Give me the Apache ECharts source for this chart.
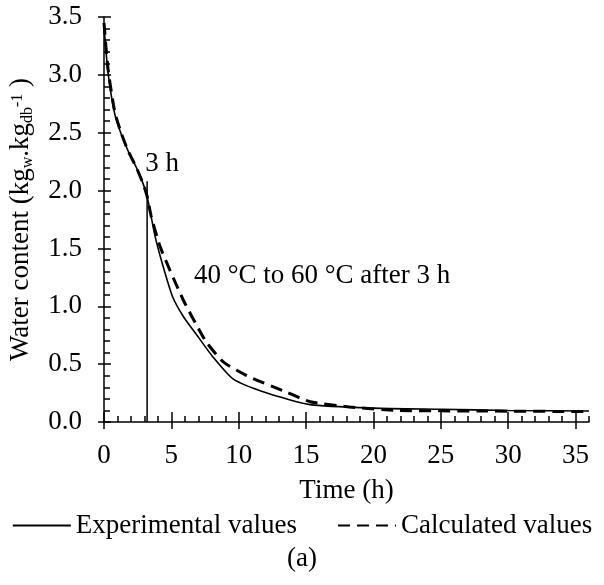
<!DOCTYPE html>
<html>
<head>
    <meta charset="utf-8">
    <script src="https://cdn.jsdelivr.net/npm/echarts@6/dist/echarts.min.js"></script>
</head>
<body style="margin:0">
    <div id="main" style="width: 604px;height:585px;"></div>
    <script type="text/javascript">
        // time (h), water content (kg/kg db)
        var experimental = [
            [0, 3.42], [0.3, 3.02], [0.8, 2.66], [1.3, 2.48], [1.8, 2.34], [2.4, 2.2],
            [2.9, 2.06], [3.2, 1.95], [3.8, 1.6], [4.4, 1.34], [5.1, 1.08], [5.9, 0.91],
            [6.9, 0.75], [8.1, 0.56], [9.6, 0.37], [12.1, 0.25], [15.3, 0.15], [20, 0.12],
            [25, 0.11], [30, 0.1], [36, 0.095]
        ];
        var calculated = [
            [0, 3.45], [0.3, 3.05], [0.8, 2.68], [1.3, 2.49], [1.8, 2.34], [2.4, 2.2],
            [2.9, 2.06], [3.2, 1.95], [3.5, 1.78], [4.15, 1.52], [4.9, 1.31], [5.9, 1.05],
            [7.0, 0.81], [7.6, 0.69], [8.85, 0.52], [10.6, 0.4], [13.3, 0.27], [15.3, 0.175],
            [18.2, 0.13], [21.9, 0.1], [28, 0.095], [36, 0.09]
        ];
        var switchLine = [[3.2, 0], [3.2, 2.08]];
        var xMajor = [0, 5, 10, 15, 20, 25, 30, 35];
        var xMinor = [0, 1, 2, 3, 4, 5, 6, 7, 8, 9, 10, 11, 12, 13, 14, 15, 16, 17, 18,
            19, 20, 21, 22, 23, 24, 25, 26, 27, 28, 29, 30, 31, 32, 33, 34, 35, 36];

        var font = 'Liberation Serif';
        var fs = 27;
        var blk = '#000';

        function xAx(extra) {
            return Object.assign({
                type: 'value', min: 0, max: 36, position: 'bottom',
                axisLine: {show: false},
                axisLabel: {show: false},
                splitLine: {show: false}
            }, extra);
        }

        option = {
            animation: false,
            textStyle: {fontFamily: font, color: blk},
            grid: {left: 104, right: 15, top: 17, bottom: 163, outerBoundsMode: 'none', containLabel: false},
            title: {
                text: '(a)', left: 'center', top: 540,
                textStyle: {fontFamily: font, fontSize: fs, fontWeight: 'normal', color: blk}
            },
            legend: {
                data: ['Experimental values', 'Calculated values'],
                left: 'center', top: 507,
                itemWidth: 58, itemHeight: 14, itemGap: 40,
                itemStyle: {opacity: 0},
                textStyle: {fontFamily: font, fontSize: fs, color: blk}
            },
            xAxis: [
                xAx({
                    axisLine: {show: true, lineStyle: {color: blk, width: 1.5}},
                    axisTick: {inside: true, length: 6, customValues: xMinor, lineStyle: {color: blk, width: 1.5}}
                }),
                xAx({
                    name: 'Time (h)', nameLocation: 'middle', nameGap: 55,
                    nameTextStyle: {fontFamily: font, fontSize: fs, color: blk},
                    axisTick: {length: 7, customValues: xMajor, lineStyle: {color: blk, width: 1.5}},
                    axisLabel: {show: true, customValues: xMajor, margin: 20, fontFamily: font, fontSize: fs, color: blk}
                }),
                xAx({
                    axisTick: {inside: true, length: 10, customValues: xMajor, lineStyle: {color: blk, width: 1.5}}
                })
            ],
            yAxis: [
                {
                    type: 'value', min: 0, max: 3.5, interval: 0.5, position: 'left',
                    name: '{a|Water content (kg}{s|w}{a|.kg}{s|db}{p|-1}{a| )}',
                    nameLocation: 'middle', nameGap: 63, nameRotate: 90,
                    nameTextStyle: {
                        fontFamily: font, fontSize: fs, color: blk,
                        rich: {
                            a: {fontFamily: font, fontSize: fs, color: blk, lineHeight: 32, verticalAlign: 'middle'},
                            s: {fontFamily: font, fontSize: 16, color: blk, lineHeight: 32, verticalAlign: 'bottom', padding: [0, 0, 2, 0]},
                            p: {fontFamily: font, fontSize: 16, color: blk, lineHeight: 32, verticalAlign: 'top', padding: [4, 0, 0, 0]}
                        }
                    },
                    axisLine: {show: true, lineStyle: {color: blk, width: 1.5}},
                    axisTick: {length: 6, lineStyle: {color: blk, width: 1.5}},
                    axisLabel: {
                        margin: 22, fontFamily: font, fontSize: fs, color: blk,
                        formatter: function (v) { return v.toFixed(1); }
                    },
                    splitLine: {show: false}
                },
                {
                    type: 'value', min: 0, max: 3.5, interval: 0.5, position: 'left',
                    axisLine: {show: false},
                    axisTick: {inside: true, length: 7, lineStyle: {color: blk, width: 1.5}},
                    minorTick: {show: true, splitNumber: 5, length: 6, lineStyle: {color: blk, width: 1.5}},
                    axisLabel: {show: false},
                    splitLine: {show: false}
                }
            ],
            series: [
                {
                    name: 'Experimental values',
                    type: 'line',
                    data: experimental,
                    symbol: 'none',
                    smooth: 0.2,
                    lineStyle: {color: blk, width: 1.6},
                    itemStyle: {color: blk},
                    z: 3
                },
                {
                    name: 'Calculated values',
                    type: 'line',
                    data: calculated,
                    symbol: 'none',
                    smooth: 0.2,
                    lineStyle: {color: blk, width: 3, type: [12, 7]},
                    itemStyle: {color: blk},
                    z: 2
                },
                {
                    name: 'switch',
                    type: 'line',
                    data: [
                        switchLine[0],
                        {value: switchLine[1], label: {show: true, position: 'top', offset: [15, 1], formatter: '3 h', fontFamily: font, fontSize: fs, color: blk}}
                    ],
                    symbol: 'circle', symbolSize: 0,
                    lineStyle: {color: blk, width: 1.5},
                    itemStyle: {color: blk},
                    markPoint: {
                        symbol: 'circle', symbolSize: 0,
                        data: [{coord: [6.3, 1.26]}],
                        label: {
                            show: true, position: 'right', distance: 5,
                            formatter: '40 °C to 60 °C after 3 h',
                            fontFamily: font, fontSize: fs, color: blk
                        }
                    }
                }
            ]
        };

        var myChart = echarts.init(document.getElementById('main'));
        myChart.setOption(option);
    </script>
</body>
</html>
